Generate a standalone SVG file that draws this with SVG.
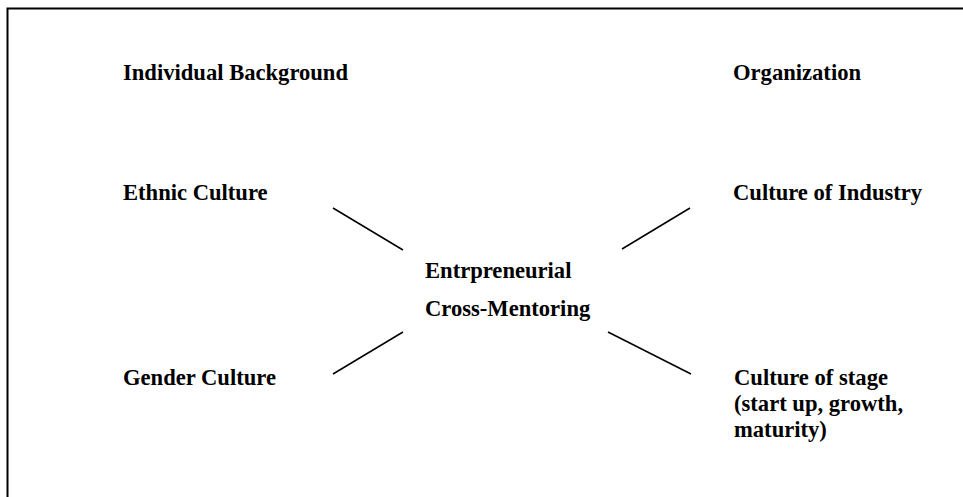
<svg xmlns="http://www.w3.org/2000/svg" width="963" height="497" viewBox="0 0 963 497">
<style>
text{font-family:"Liberation Serif","Times New Roman",serif;font-weight:bold;font-size:22.6px;fill:#000}
.c line{stroke:#000;stroke-width:1.5}
</style>
<rect x="0" y="0" width="963" height="497" fill="#fff"/>
<rect x="7.5" y="8.5" width="1000" height="600" fill="none" stroke="#000" stroke-width="2"/>
<g id="individual"><text x="123" y="80">Individual Background</text></g>
<g id="organization"><text x="733" y="80">Organization</text></g>
<g id="ethnic"><text x="123" y="200">Ethnic Culture</text></g>
<g id="industry"><text x="733" y="200">Culture of Industry</text></g>
<g id="center"><text x="425" y="278">Entrpreneurial</text><text x="425" y="316">Cross-Mentoring</text></g>
<g id="gender"><text x="123" y="385">Gender Culture</text></g>
<g id="stage"><text x="734" y="385">Culture of stage</text><text x="734" y="411">(start up, growth,</text><text x="734" y="437">maturity)</text></g>
<g class="c" id="connectors">
<line x1="333" y1="208" x2="403" y2="250"/>
<line x1="690" y1="208" x2="622" y2="249"/>
<line x1="403" y1="332" x2="333" y2="374"/>
<line x1="608" y1="332" x2="691" y2="374"/>
</g>
</svg>
